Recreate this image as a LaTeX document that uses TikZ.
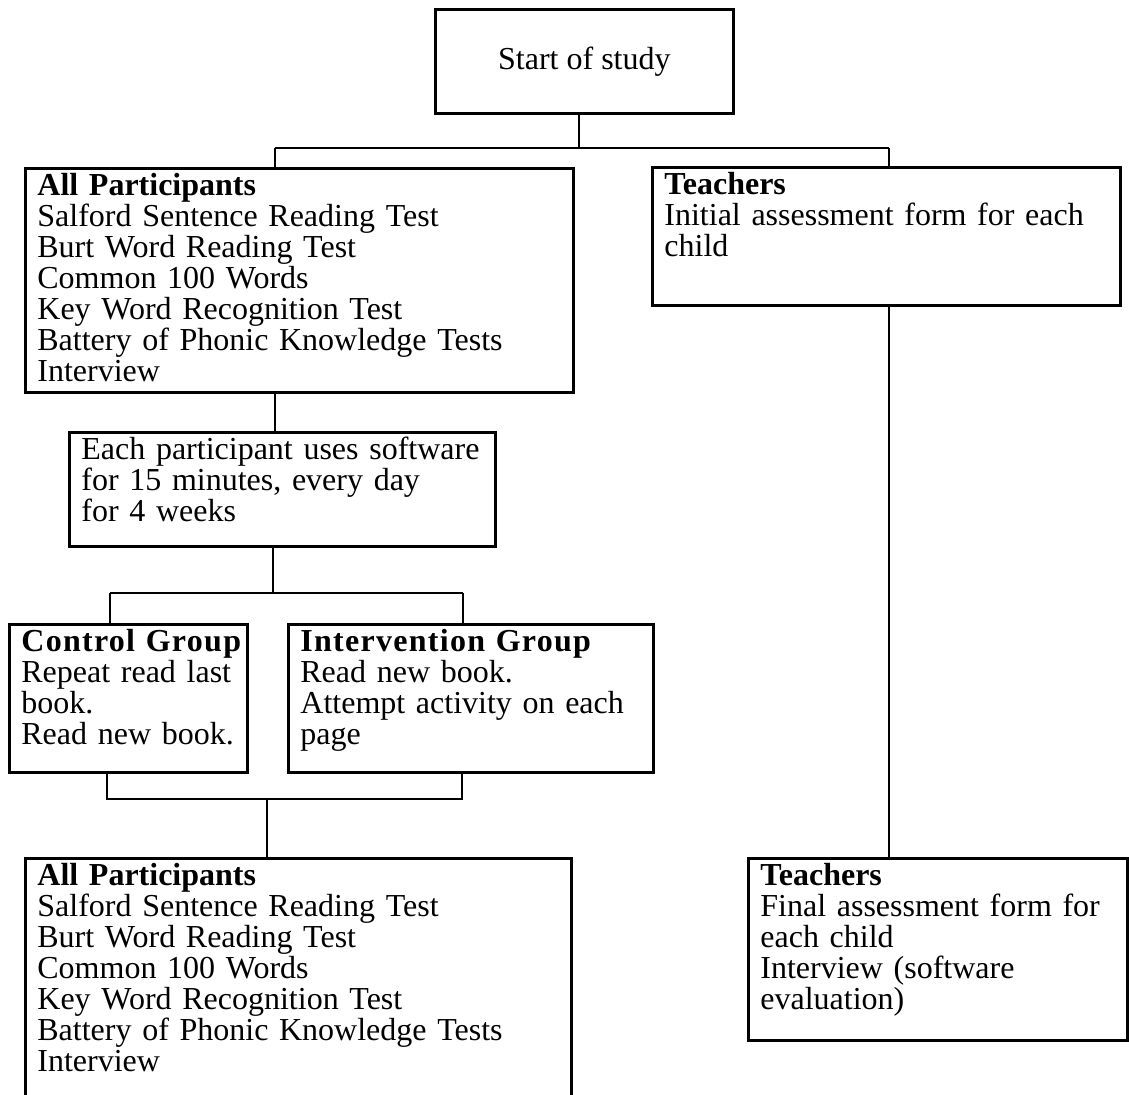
\documentclass[tikz,border=0pt]{standalone}
\usepackage{fontspec}
\setmainfont{Liberation Serif}
\newfontfamily\groupfont[LetterSpace=4]{Liberation Serif}
\tikzset{
  stage/.style 2 args={draw, line width=1.4pt, anchor=north west, align=left,
    inner xsep=6pt, inner ysep=2.5pt, text height=11pt,
    text width=#1, text depth=#2},
  link/.style={line width=1.2pt}
}
\begin{document}
\begin{tikzpicture}[x=0.5pt, y=-0.5pt, font=\fontsize{16}{15.5}\selectfont]
      \useasboundingbox (0,0) rectangle (1129,1095);
      \clip (0,0) rectangle (1129,1095);
      \node[draw, line width=1.4pt, anchor=north west, minimum width=149pt,
        minimum height=52pt] (start) at (434,8) {Start of study};
      \node[stage={262pt}{96pt}] (all1) at (24,167)
        {\textbf{All Participants}\\
         Salford Sentence Reading Test\\
         Burt Word Reading Test\\
         Common 100 Words\\
         Key Word Recognition Test\\
         Battery of Phonic Knowledge Tests\\
         Interview};
      \node[stage={222pt}{53pt}] (teach1) at (651,166)
        {\textbf{Teachers}\\
         Initial assessment form for each\\
         child};
      \node[stage={201pt}{41pt}] (daily) at (68,431)
        {Each participant uses software\\
         for 15 minutes, every day\\
         for 4 weeks};
      \node[stage={107pt}{58pt}] (ctrl) at (8,623)
        {\mbox{\groupfont\bfseries Control Group}\\
         Repeat read last\\
         book.\\
         Read new book.};
      \node[stage={170.5pt}{58pt}] (interv) at (287,623)
        {\mbox{\groupfont\bfseries Intervention Group}\\
         Read new book.\\
         Attempt activity on each\\
         page};
      \node[stage={261pt}{115pt}] (all2) at (24,857)
        {\textbf{All Participants}\\
         Salford Sentence Reading Test\\
         Burt Word Reading Test\\
         Common 100 Words\\
         Key Word Recognition Test\\
         Battery of Phonic Knowledge Tests\\
         Interview};
      \node[stage={177.5pt}{75pt}] (teach2) at (747,857)
        {\textbf{Teachers}\\
         Final assessment form for\\
         each child\\
         Interview (software\\
         evaluation)};
      \coordinate (j0) at (579,148);
      \coordinate (j1) at (275,148);
      \coordinate (j2) at (889,148);
      \coordinate (j3) at (273,593);
      \coordinate (j4) at (110,593);
      \coordinate (j5) at (463,593);
      \coordinate (j6) at (107,799);
      \coordinate (j7) at (462,799);
      \coordinate (j8) at (267,799);
      \begin{scope}[link]
        \draw (start.south -| j0) -- (j0);
        \draw (j1) -- (j2);
        \draw (j1) -- (j1 |- all1.north);
        \draw (j2) -- (j2 |- teach1.north);
        \draw (teach1.south -| j2) -- (teach2.north -| j2);
        \draw (all1.south -| j1) -- (daily.north -| j1);
        \draw (daily.south -| j3) -- (j3);
        \draw (j4) -- (j5);
        \draw (j4) -- (j4 |- ctrl.north);
        \draw (j5) -- (j5 |- interv.north);
        \draw (j6 |- ctrl.south) -- (j6) -- (j7) -- (j7 |- interv.south);
        \draw (j8) -- (j8 |- all2.north);
      \end{scope}
    \end{tikzpicture}
\end{document}
